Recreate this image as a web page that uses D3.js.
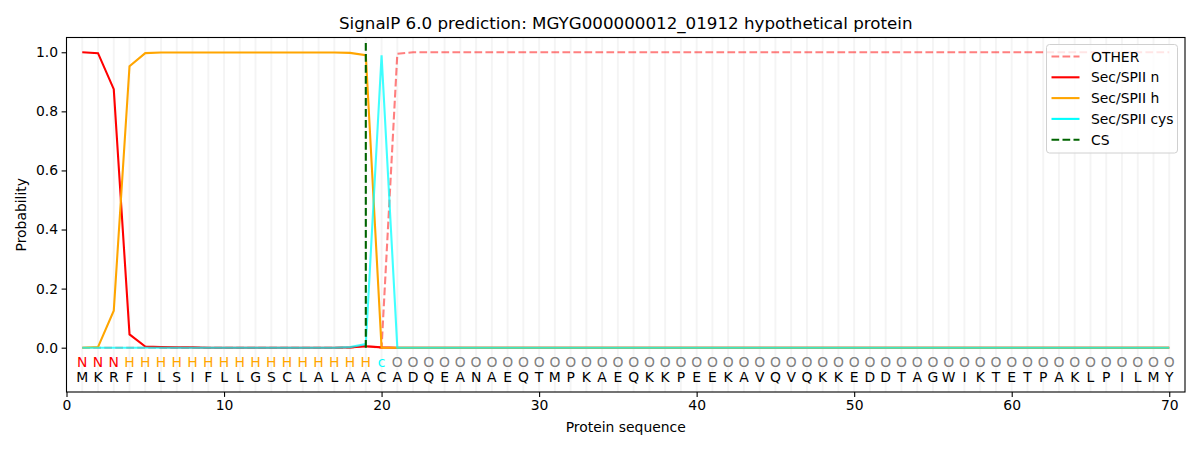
<!DOCTYPE html>
<html><head><meta charset="utf-8">
<script src="https://cdn.jsdelivr.net/npm/d3@7"></script>
<style>body{margin:0;background:#fff}svg{font-family:"DejaVu Sans",sans-serif}</style>
</head><body><svg id="c" width="1200" height="450"></svg>
<script>
const sequence = "MKRFILSIFLLGSCLALAACADQEANAEQTMPKAEQKKPEEKAVQVQKKEDDTAGWIKTETPAKLPILMY".split("");
const regionLabels = "NNNHHHHHHHHHHHHHHHHcOOOOOOOOOOOOOOOOOOOOOOOOOOOOOOOOOOOOOOOOOOOOOOOOOO".split("");
const positions = d3.range(1, 71);
const otherProb = [0,0,0,0,0,0,0,0,0,0,0,0,0,0,0,0,0,0,0.005,0.0,0.995,1,1,1,1,1,1,1,1,1,1,1,1,1,1,1,1,1,1,1,1,1,1,1,1,1,1,1,1,1,1,1,1,1,1,1,1,1,1,1,1,1,1,1,1,1,1,1,1,1];
const secNProb = [1.0,0.997,0.875,0.045,0.004,0.002,0.001,0.001,0,0,0,0,0,0,0,0,0,0.001,0.005,0.001,0,0,0,0,0,0,0,0,0,0,0,0,0,0,0,0,0,0,0,0,0,0,0,0,0,0,0,0,0,0,0,0,0,0,0,0,0,0,0,0,0,0,0,0,0,0,0,0,0,0];
const secHProb = [0,0.002,0.125,0.953,0.997,0.999,0.999,0.999,0.999,0.999,0.999,0.999,0.999,0.999,0.999,0.999,0.999,0.998,0.99,0.0,0,0,0,0,0,0,0,0,0,0,0,0,0,0,0,0,0,0,0,0,0,0,0,0,0,0,0,0,0,0,0,0,0,0,0,0,0,0,0,0,0,0,0,0,0,0,0,0,0,0];
const secCysProb = [0,0,0,0,0,0,0,0,0,0,0,0,0,0,0,0,0,0.002,0.012,0.99,0.0,0,0,0,0,0,0,0,0,0,0,0,0,0,0,0,0,0,0,0,0,0,0,0,0,0,0,0,0,0,0,0,0,0,0,0,0,0,0,0,0,0,0,0,0,0,0,0,0,0];
const csPosition = 19;
const csTop = 1.035;
const xTicks = [0,10,20,30,40,50,60,70];
const yTicks = [0,0.2,0.4,0.6,0.8,1.0];

const svg = d3.select("#c");
const L = 66.5, R = 1185, T = 37.5, B = 392;
const x = d3.scaleLinear().domain([0,71]).range([L,R]);
const y = d3.scaleLinear().domain([-0.15,1.05]).range([B,T]);
const LW = 2.1, DASH = "7.7,3.3";

// grid
svg.append("g").selectAll("line").data(positions).join("line")
  .attr("x1", d=>x(d)).attr("x2", d=>x(d)).attr("y1", T).attr("y2", B)
  .attr("stroke", "#000").attr("stroke-opacity", 0.045).attr("stroke-width", 2);

const clip = svg.append("clipPath").attr("id","clp").append("rect").attr("x",L).attr("y",T).attr("width",R-L).attr("height",B-T);
const plot = svg.append("g").attr("clip-path","url(#clp)");
const line = d3.line().x((d,i)=>x(positions[i])).y(d=>y(d));

plot.append("path").datum(otherProb).attr("d", line).attr("fill","none")
  .attr("stroke","#ff0000").attr("stroke-opacity",0.5).attr("stroke-width",LW).attr("stroke-dasharray",DASH);
plot.append("path").datum(secNProb).attr("d", line).attr("fill","none").attr("stroke","#ff0000").attr("stroke-width",LW);
plot.append("path").datum(secHProb).attr("d", line).attr("fill","none").attr("stroke","#ffa500").attr("stroke-width",LW);
plot.append("path").datum(secCysProb).attr("d", line).attr("fill","none").attr("stroke","#00ffff").attr("stroke-opacity",0.75).attr("stroke-width",LW);
plot.append("line").attr("x1",x(csPosition)).attr("x2",x(csPosition)).attr("y1",y(0)).attr("y2",y(csTop))
  .attr("stroke","#006400").attr("stroke-width",LW).attr("stroke-dasharray",DASH);

// region labels and sequence
const labColor = {N:"#ff0000", H:"#ffa500", c:"#00ffff", O:"#808080"};
svg.append("g").selectAll("text").data(regionLabels).join("text")
  .attr("x",(d,i)=>x(positions[i])).attr("y", 366.5).attr("text-anchor","middle")
  .attr("font-size", 13.9).attr("fill", d=>labColor[d]).text(d=>d);
svg.append("g").selectAll("text").data(sequence).join("text")
  .attr("x",(d,i)=>x(positions[i])).attr("y", 382).attr("text-anchor","middle")
  .attr("font-size", 13.9).attr("fill", "#000").text(d=>d);

// axes
const xa = svg.append("g").attr("transform",`translate(0,${B})`)
  .call(d3.axisBottom(x).tickValues(xTicks).tickFormat(d3.format("d")).tickSize(4.9).tickPadding(3.5));
const ya = svg.append("g").attr("transform",`translate(${L},0)`)
  .call(d3.axisLeft(y).tickValues(yTicks).tickFormat(d3.format(".1f")).tickSize(4.9).tickPadding(3.5));
[xa,ya].forEach(a=>{a.selectAll("text").attr("font-size",13.9).attr("font-family","DejaVu Sans").attr("fill","#000");
  a.selectAll("line").attr("stroke","#000").attr("stroke-width",1.1); a.select(".domain").remove();});
svg.append("rect").attr("x",L).attr("y",T).attr("width",R-L).attr("height",B-T).attr("fill","none").attr("stroke","#000").attr("stroke-width",1.1);

svg.append("text").attr("x",(L+R)/2).attr("y",29).attr("text-anchor","middle").attr("font-size",16.7)
  .text("SignalP 6.0 prediction: MGYG000000012_01912 hypothetical protein");
svg.append("text").attr("x",(L+R)/2).attr("y",432).attr("text-anchor","middle").attr("font-size",13.9).text("Protein sequence");
svg.append("text").attr("transform","translate(26,"+((T+B)/2)+") rotate(-90)").attr("text-anchor","middle").attr("font-size",13.9).text("Probability");

// legend
const legItems = [
  {name:"OTHER", color:"#ff0000", op:0.5, dash:DASH},
  {name:"Sec/SPII n", color:"#ff0000", op:1, dash:null},
  {name:"Sec/SPII h", color:"#ffa500", op:1, dash:null},
  {name:"Sec/SPII cys", color:"#00ffff", op:1, dash:null},
  {name:"CS", color:"#006400", op:1, dash:DASH}
];
const lg = svg.append("g");
lg.append("rect").attr("x",1046.5).attr("y",44.5).attr("width",131).attr("height",108.5).attr("rx",3)
  .attr("fill","#fff").attr("fill-opacity",0.8).attr("stroke","#d0d0d0");
legItems.forEach((it,i)=>{
  const yy = 56.5 + i*20.8;
  lg.append("line").attr("x1",1051.5).attr("x2",1079.5).attr("y1",yy).attr("y2",yy)
    .attr("stroke",it.color).attr("stroke-opacity",it.op).attr("stroke-width",LW).attr("stroke-dasharray",it.dash);
  lg.append("text").attr("x",1091).attr("y",yy+5).attr("font-size",13.9).text(it.name);
});
</script></body></html>
